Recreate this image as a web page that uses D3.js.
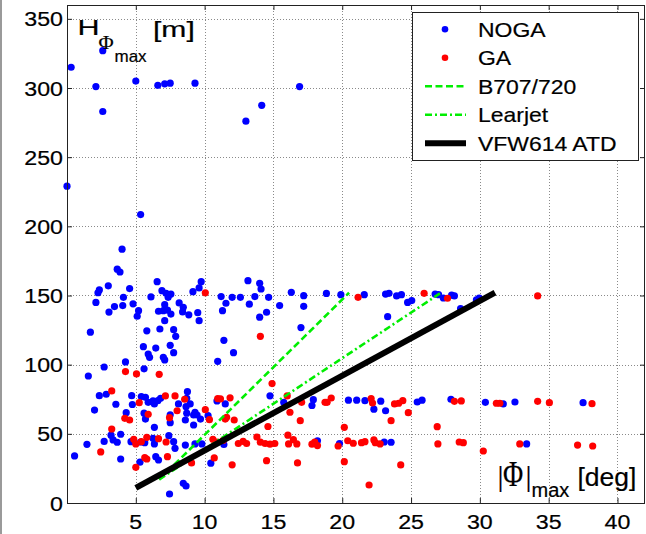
<!DOCTYPE html>
<html><head><meta charset="utf-8">
<script src="https://cdn.jsdelivr.net/npm/d3@7"></script>
<style>html,body{margin:0;padding:0;background:#fff;}svg{display:block}</style>
</head><body><svg id="c" width="646" height="534"></svg>
<script>
// ---------- data ----------
const xTicks = [5, 10, 15, 20, 25, 30, 35, 40];
const yTicks = [0, 50, 100, 150, 200, 250, 300, 350];

const nogaPoints = [
 [0.0,229],[0.3,315],[2.1,301],[2.6,327],[2.6,283],[5.0,305],[5.35,208.5],[6.6,302],[7.1,303],[7.5,303.5],[9.3,303.5],[13.0,276],[14.15,287.5],[16.9,301],[4.0,183.5],[3.65,169],[3.85,167],
 [3.0,157],[2.35,154],[2.25,152],[2.1,145],[4.55,155],[4.1,148.7],[3.45,142],[3.05,138],[4.05,142.7],[4.8,144],[5.2,139],[5.1,135],[1.7,123.5],[6.55,160],[6.9,153.5],[6.1,149],[7.2,151.6],[7.55,151],[7.35,148.7],[7.1,143.4],[6.65,138.6],[7.0,139],[7.3,139.5],[7.55,136.6],[7.1,131.8],[8.15,144.6],[8.45,141.5],[8.4,138.1],[8.85,136],[9.15,152.8],[5.8,124.5],[6.75,125.8],[7.75,125.3],[7.9,120.5],[5.55,113],[6.45,112],[7.5,114],[5.9,107.7],[6.0,105.3],[7.75,108.7],[7.0,105.3],[7.1,103.4],[4.25,102],[2.7,98.3],[5.6,97],[1.55,91.8],
 [9.75,160],[9.6,155.5],[11.2,149.2],[12.0,148.7],[12.6,148.7],[13.15,160.7],[14.0,158.8],[14.1,154.7],[13.65,149.2],[14.65,148.7],[11.55,144.4],[13.25,143.7],[11.3,139],[15.45,142.7],[14.5,137.9],[14.0,134.3],[16.3,152.3],[17.2,149.9],[18.85,151.5],[17.2,142.2],[17.0,126.8],[11.4,117.6],[12.1,108.7],[10.95,102.4],[9.5,137.6],[9.6,131.8],
 [2.35,77.6],[2.85,78.6],[3.55,71.4],[2.0,67.2],[4.7,77.6],[4.75,71.2],[5.4,76.9],[5.7,76.4],[6.25,73.8],[6.6,74],[6.8,75.7],[5.9,72.8],[6.35,71.6],[4.3,65.3],[5.6,64.9],[5.7,60.7],[6.35,54.7],[7.5,58.1],[7.5,63.8],[8.1,71.6],[8.7,75.7],[8.95,71.6],[8.7,64.9],[9.2,63.6],[8.65,69.6],[8.6,60],[9.45,63.6],[9.7,60.7],[9.2,56.4],[9.3,65.6],[8.75,80.5],
 [1.45,42.4],[0.55,34],[2.7,44.5],[3.2,49],[3.35,45.6],[3.65,43.9],[3.9,49.7],[3.9,31.8],[4.65,44.3],[5.35,44.1],[5.65,43.6],[6.25,46.8],[6.35,42.7],[6.45,33.5],[6.65,31.1],[7.75,44.3],[7.85,39.5],[8.6,41.9],[8.45,14.2],[8.65,12.3],[7.45,6.5],[5.3,29.5],[7.4,48.7],[9.3,42.7],[9.8,42.7],
 [10.25,63.1],[10.9,73.8],[11.5,71.6],[11.4,42.3],[10.45,28.8],[14.75,77.5],[15.75,72.7],[17.9,74.7],[17.8,70.5],[18.2,45],
 [19.9,150.6],[21.6,150.6],[23.15,151],[23.4,151.6],[23.95,149.7],[24.3,150.6],[24.75,145],[25.05,146.3],[26.75,151],[27.0,150.6],[27.35,148.2],[27.95,150.2],[28.15,149.7],[28.6,140.5],[29.75,146.8],[29.95,148.2],[23.3,134.7],
 [20.45,74.3],[21.05,74.3],[21.65,74],[22.8,73.6],[22.3,67.8],[23.15,66.7],[25.45,73],[25.8,74.3],[27.9,75],[30.4,72.8],[31.7,71.6],[32.55,73],[37.5,72.5],
 [19.8,43],[23.05,44.1],[23.55,43.9],[33.4,42.7]
];

const gaPoints = [
 [10.05,152],[14.05,120.5],[14.9,86.3],[4.25,95],[5.05,93.3],[6.7,93],
 [3.25,81],[5.25,72.5],[5.9,64.1],[4.2,61.2],[4.55,60],[7.15,77.4],[7.85,77.4],[8.55,75],[8.0,66.7],[7.45,61.7],[3.25,53.5],[2.45,36.9],[4.85,46],[5.0,42.7],[5.4,44.3],[5.8,47.5],[6.65,46.5],[7.2,44.1],[5.65,32.8],[5.8,31.8],[5.0,25.8],[7.3,33.5],[9.05,29],
 [10.05,67.5],[10.35,60.2],[10.7,32.6],[10.95,75.5],[11.15,75.2],[11.5,60.7],[11.6,62],[12.15,60],[11.85,76],[12.0,27.6],[13.8,47.7],[14.5,30.6],[14.6,55.3],[16.2,65.6],[16.75,29],[16.95,59.5],[17.05,72.8],[18.75,72.8],[16.0,77.4],
 [10.6,46],[10.9,44],[11.35,45.2],[12.45,43],[12.8,44.5],[13.05,43],[14.05,44],[14.4,43],[14.75,42.5],[15.1,43],[16.05,49],[16.1,42.7],[16.45,45.8],[16.7,42.7],[17.8,42.5],[18.0,44],[18.2,41.5],
 [21.15,148.7],[25.95,151.6],[27.65,148],[34.2,149.7],
 [18.9,72.8],[19.2,75.9],[22.1,75.5],[22.2,72.3],[23.8,71.6],[24.1,72.1],[24.4,74],[24.8,65.3],[28.15,73.5],[28.65,73.8],[31.2,72.1],[31.45,72.1],[34.2,73.5],[35.05,72.5],[38.15,71.8],[23.55,59.5],[20.15,54.7],[26.9,55.2],
 [19.7,41.2],[20.4,45],[20.8,43.2],[21.4,43.6],[21.65,44.3],[22.3,45.6],[22.4,43.6],[22.75,42.7],[26.95,42.7],[28.5,44.1],[28.8,43.6],[32.9,42.7],[37.1,41.9],[38.2,41.2],[20.15,29.9],[24.25,27.5],[30.25,37.6],[21.95,13]
];

const b707Line = [[6.7,17],[20.5,152]];
const learjetLine = [[6.7,17],[27.1,151.5]];
const vfwLine = [[5.0,11],[31.1,152]];

const legendLabels = ["NOGA", "GA", "B707/720", "Learjet", "VFW614 ATD"];

// ---------- layout ----------
const L = 67, T = 5, R = 645, B = 503;
const svg = d3.select("#c");
const x = d3.scaleLinear().domain([0, 42]).range([L, R]);
const y = d3.scaleLinear().domain([0, 360]).range([B, T]);
const SANS = "'Liberation Sans', Arial, Helvetica, sans-serif";
const SERIF = "'Liberation Serif', 'Times New Roman', serif";
const TXT_STROKE = 0.2;

svg.append("rect").attr("width", 646).attr("height", 534).attr("fill", "#fff");
// figure left edge decoration
svg.append("rect").attr("x", 0).attr("y", 0).attr("width", 2).attr("height", 534).attr("fill", "#9a9a9a");

// grid
const grid = svg.append("g").attr("stroke", "#8a8a8a").attr("stroke-width", 1).attr("stroke-dasharray", "1,2");
grid.selectAll(".gx").data(xTicks).join("line")
  .attr("x1", d => Math.round(x(d)) + 0.5).attr("x2", d => Math.round(x(d)) + 0.5)
  .attr("y1", T).attr("y2", B);
grid.selectAll(".gy").data(yTicks.filter(d => d > 0)).join("line")
  .attr("y1", d => Math.round(y(d)) + 0.5).attr("y2", d => Math.round(y(d)) + 0.5)
  .attr("x1", L).attr("x2", R);

// points
svg.append("g").selectAll("circle").data(nogaPoints).join("circle")
  .attr("cx", d => x(d[0])).attr("cy", d => y(d[1])).attr("r", 3.6).attr("fill", "#0000ff");
svg.append("g").selectAll("circle").data(gaPoints).join("circle")
  .attr("cx", d => x(d[0])).attr("cy", d => y(d[1])).attr("r", 3.6).attr("fill", "#ff0000");

// lines
const line = d3.line().x(d => x(d[0])).y(d => y(d[1]));
svg.append("path").attr("d", line(b707Line)).attr("fill", "none")
  .attr("stroke", "#00ee00").attr("stroke-width", 2.6).attr("stroke-dasharray", "7,3.5");
svg.append("path").attr("d", line(learjetLine)).attr("fill", "none")
  .attr("stroke", "#00ee00").attr("stroke-width", 2.6).attr("stroke-dasharray", "7,3,2,3");
svg.append("path").attr("d", line(vfwLine)).attr("fill", "none")
  .attr("stroke", "#000").attr("stroke-width", 6);

// frame
svg.append("rect").attr("x", L + 0.5).attr("y", T + 0.5).attr("width", R - L - 1).attr("height", B - T)
  .attr("fill", "none").attr("stroke", "#222").attr("stroke-width", 1);

// inward ticks on four sides
function ticks(gen, tx, ty) {
  const g = svg.append("g").attr("transform", `translate(${tx},${ty})`).call(gen);
  g.select(".domain").remove();
  g.selectAll("line").attr("stroke", "#222");
  g.selectAll("text").remove();
}
ticks(d3.axisBottom(x).tickValues(xTicks).tickSize(-5).tickFormat(""), 0, B);
ticks(d3.axisTop(x).tickValues(xTicks).tickSize(-5).tickFormat(""), 0, T);
ticks(d3.axisLeft(y).tickValues(yTicks).tickSize(-5).tickFormat(""), L, 0);
ticks(d3.axisRight(y).tickValues(yTicks).tickSize(-5).tickFormat(""), R, 0);

// tick labels
svg.append("g").selectAll("text").data(xTicks).join("text")
  .attr("transform", d => `translate(${x(d)},529) scale(1.16,1)`)
  .attr("text-anchor", "middle").attr("font-family", SANS).attr("font-size", 20)
  .attr("stroke", "#000").attr("stroke-width", TXT_STROKE).text(d => d);
svg.append("g").selectAll("text").data(yTicks).join("text")
  .attr("transform", d => `translate(63,${y(d) + 7.5}) scale(1.16,1)`)
  .attr("text-anchor", "end").attr("font-family", SANS).attr("font-size", 20)
  .attr("stroke", "#000").attr("stroke-width", TXT_STROKE).text(d => d);

function label(txt, tx, ty, size, fam, sx, sy) {
  return svg.append("text").attr("transform", `translate(${tx},${ty}) scale(${sx},${sy || 1})`)
    .attr("font-family", fam).attr("font-size", size).attr("fill", "#000")
    .attr("stroke", "#000").attr("stroke-width", TXT_STROKE).text(txt);
}
// y label: H_{Phi_max} [m]
label("H", 77.6, 35, 21.5, SANS, 1.42);
label("Φ", 98.5, 48.5, 18, SERIF, 1.15);
label("max", 114.5, 62, 17, SANS, 1.0);
label("[m]", 153, 36.5, 21.5, SANS, 1.4);
// x label: |Phi|_max [deg]
label("|", 497.5, 486, 30, SERIF, 1.0);
label("Φ", 503, 486, 30, SERIF, 0.92, 1.22);
label("|", 525.5, 486, 30, SERIF, 1.0);
label("max", 531.5, 497, 20, SANS, 1.0);
label("[deg]", 577.5, 485.5, 26.5, SANS, 1.0);

// legend
const lg = svg.append("g");
lg.append("rect").attr("x", 412.5).attr("y", 12.5).attr("width", 226).attr("height", 148)
  .attr("fill", "#fff").attr("stroke", "#222").attr("stroke-width", 1);
const rowY = i => 29.3 + i * 28.5;
lg.append("circle").attr("cx", 445).attr("cy", rowY(0)).attr("r", 3.3).attr("fill", "#0000ff");
lg.append("circle").attr("cx", 445).attr("cy", rowY(1)).attr("r", 3.3).attr("fill", "#ff0000");
lg.append("line").attr("x1", 425).attr("x2", 466).attr("y1", rowY(2)).attr("y2", rowY(2))
  .attr("stroke", "#00ee00").attr("stroke-width", 2.6).attr("stroke-dasharray", "7,3.5");
lg.append("line").attr("x1", 425).attr("x2", 466).attr("y1", rowY(3)).attr("y2", rowY(3))
  .attr("stroke", "#00ee00").attr("stroke-width", 2.6).attr("stroke-dasharray", "7,3,2,3");
lg.append("line").attr("x1", 425).attr("x2", 466).attr("y1", rowY(4)).attr("y2", rowY(4))
  .attr("stroke", "#000").attr("stroke-width", 6);
lg.selectAll("text").data(legendLabels).join("text")
  .attr("transform", (d, i) => `translate(478,${rowY(i) + 7.5}) scale(1.12,1)`)
  .attr("font-family", SANS).attr("font-size", 20.5)
  .attr("stroke", "#000").attr("stroke-width", TXT_STROKE).text(d => d);
</script></body></html>
